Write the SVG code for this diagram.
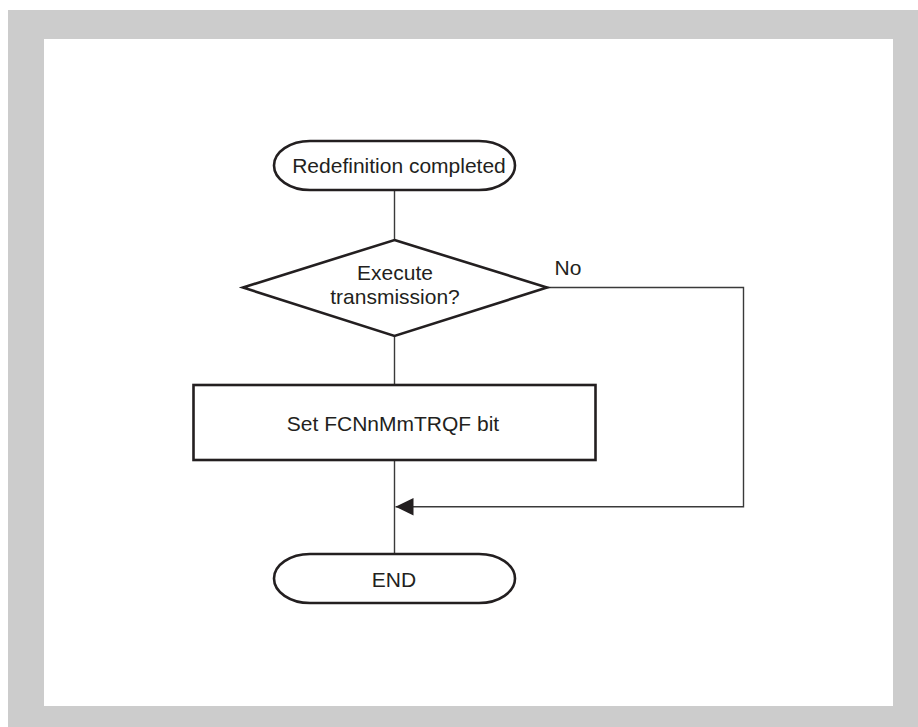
<svg xmlns="http://www.w3.org/2000/svg" width="918" height="727" viewBox="0 0 918 727">
  <style>
    .shape { fill: #ffffff; stroke: #231f20; stroke-width: 2.6; }
    .wire { fill: none; stroke: #3a3a3a; stroke-width: 1.4; }
    .label { font-family: "Liberation Sans", Arial, sans-serif; font-size: 21px; fill: #231f20; text-anchor: middle; }
  </style>
  <defs>
    <marker id="arrow" markerWidth="18" markerHeight="18" refX="18" refY="9" orient="auto" markerUnits="userSpaceOnUse">
      <path d="M0,0.3 L18,9 L0,17.7 Z" fill="#231f20"/>
    </marker>
  </defs>

  <!-- frame -->
  <rect x="8" y="10" width="910" height="717" fill="#cccccc"/>
  <rect x="44" y="39" width="849" height="667" fill="#ffffff"/>

  <!-- connectors -->
  <g id="connectors">
    <line class="wire" x1="394.5" y1="190" x2="394.5" y2="240"/>
    <line class="wire" x1="394.5" y1="336" x2="394.5" y2="385"/>
    <line class="wire" x1="394.5" y1="460" x2="394.5" y2="554"/>
    <polyline class="wire" points="547,287.5 743.5,287.5 743.5,506.7 395.5,506.7" marker-end="url(#arrow)"/>
    <text class="label" x="568" y="275">No</text>
  </g>

  <g id="start">
    <rect class="shape" x="274" y="141" width="241" height="49" rx="36" ry="24.5"/>
    <text class="label" x="399" y="173">Redefinition completed</text>
  </g>

  <g id="decision">
    <polygon class="shape" points="394.5,240 547,287.5 394.5,336 243,287.5"/>
    <text class="label" x="395" y="280">Execute</text>
    <text class="label" x="395" y="304">transmission?</text>
  </g>

  <g id="set-bit">
    <rect class="shape" x="193.5" y="385" width="402" height="75"/>
    <text class="label" x="393" y="431">Set FCNnMmTRQF bit</text>
  </g>

  <g id="end">
    <rect class="shape" x="274" y="554" width="241" height="49" rx="36" ry="24.5"/>
    <text class="label" x="394" y="587">END</text>
  </g>
</svg>
